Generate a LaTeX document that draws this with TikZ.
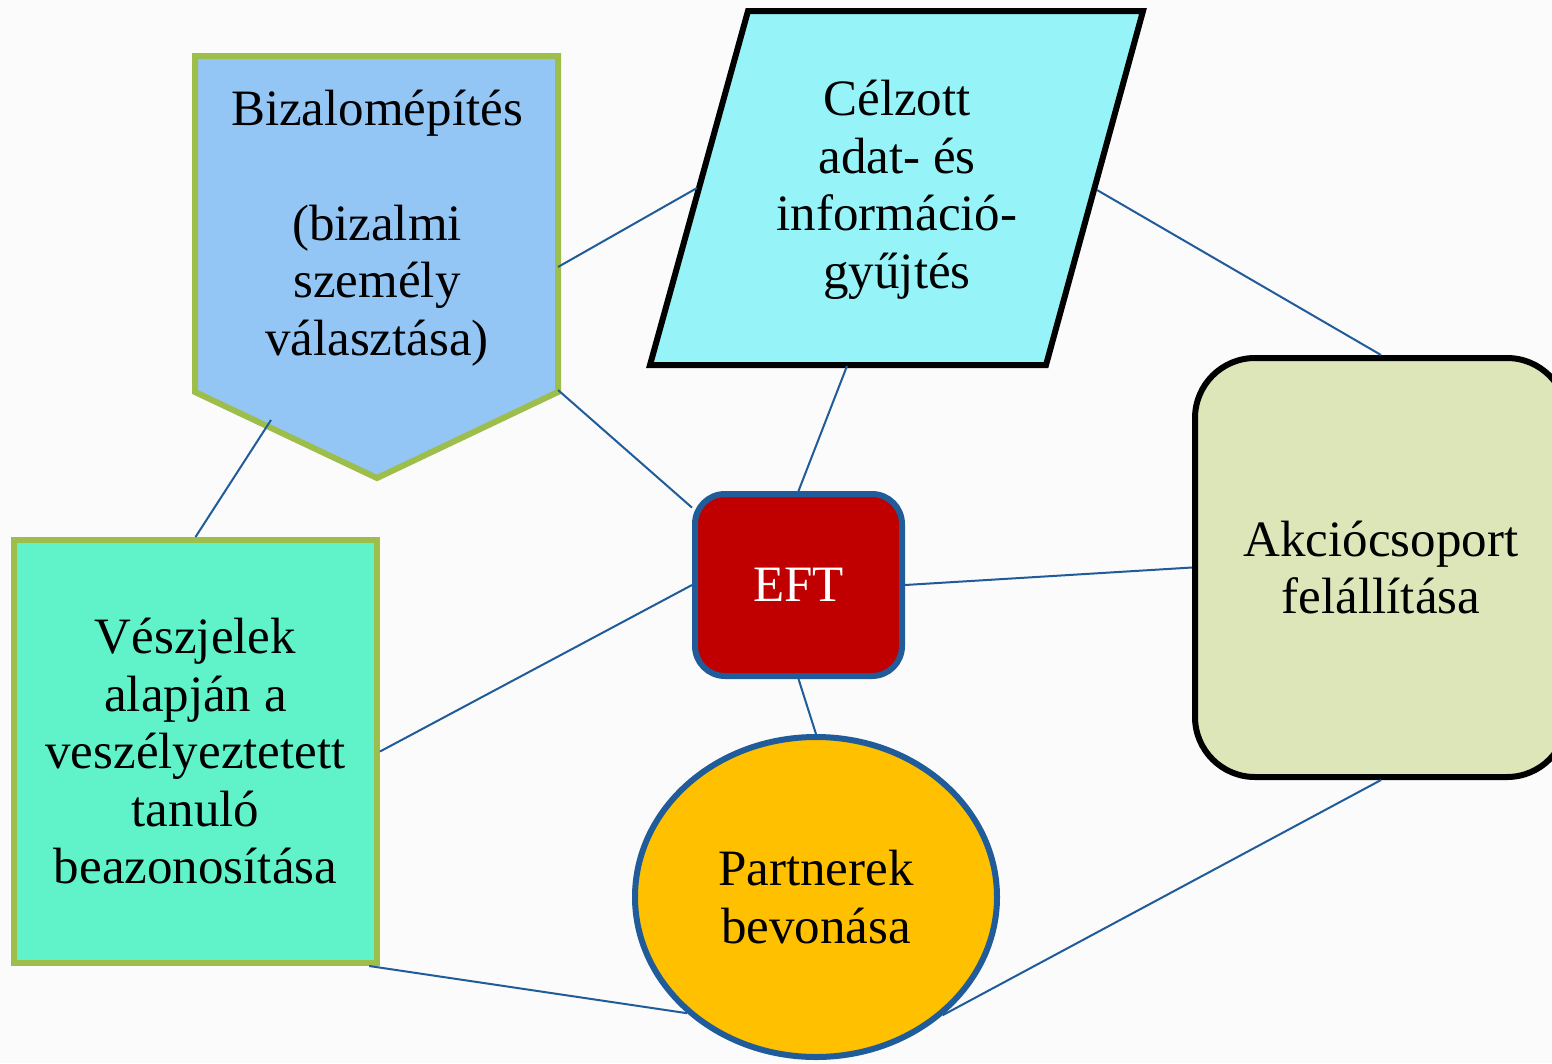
\documentclass[tikz,border=0pt]{standalone}
\usepackage{fontspec}
\setmainfont{Liberation Serif}
\usetikzlibrary{shapes.geometric}
\definecolor{bgwhite}{HTML}{FBFBFB}
\definecolor{linkblue}{HTML}{1F5C99}
\definecolor{edgegreen}{HTML}{9DBE4A}
\definecolor{bizblue}{HTML}{93C6F5}
\definecolor{celcyan}{HTML}{96F4F8}
\definecolor{veszmint}{HTML}{60F3C9}
\definecolor{eftred}{HTML}{C00000}
\definecolor{akcgreen}{HTML}{DCE6B8}
\definecolor{partgold}{HTML}{FFC000}
\begin{document}
\begin{tikzpicture}[x=1pt,y=-1pt,
	txt/.style={align=center,inner sep=0pt,font=\fontsize{51}{57.5}\selectfont},
	box/.style={txt,draw,line width=6pt},
	link/.style={draw=linkblue,line width=2pt}]
	\useasboundingbox[fill=bgwhite] (0,0) rectangle (1552,1063);
	% pentagon and parallelogram drawn as paths
	\draw[line width=6pt,draw=edgegreen,fill=bizblue] (195,56) -- (558,56) -- (558,392) -- (377,478) -- (195,392) -- cycle;
	\coordinate (bz1) at (558,267); \coordinate (bz2) at (558,390); \coordinate (bz3) at (271,420);
	\node[txt] (biz) at (377,228) {Bizalomépítés\\[57.5pt](bizalmi\\személy\\választása)};
	\draw[line width=6pt,fill=celcyan,line join=miter] (748,11) -- (1143,11) -- (1046,365) -- (650,365) -- cycle;
	\coordinate (cel1) at (697,188); \coordinate (cel2) at (1097,190); \coordinate (cel3) at (847,366);
	\node[txt] (cel) at (897,190) {Célzott\\adat- és\\információ-\\gyűjtés};
	% nodes
	\node[box,draw=linkblue,fill=eftred,text=white,rounded corners=30pt,minimum width=207,minimum height=182] (eft) at (798.5,585) {EFT};
	\node[box,fill=akcgreen,rounded corners=60pt,minimum width=372,minimum height=419,text depth=0pt] (akc) at (1381,567.5) {Akciócsoport\\felállítása};
	\node[box,draw=edgegreen,fill=veszmint,minimum width=363,minimum height=423] (vesz) at (195.5,751.5) {Vészjelek\\alapján a\\veszélyeztetett\\tanuló\\beazonosítása};
	\node[box,ellipse,draw=linkblue,fill=partgold,minimum width=362,minimum height=320] (part) at (816,897) {Partnerek\\bevonása};
	% connectors
	\draw[link] (bz1) -- (cel1);
	\draw[link] (cel2) -- (akc.north);
	\draw[link] (bz2) -- (eft.144);
	\draw[link] (cel3) -- (eft.north);
	\draw[link] (bz3) -- (vesz.north);
	\draw[link] (eft.west) -- (vesz.east);
	\draw[link] (eft.east) -- (akc.west);
	\draw[link] (eft.south) -- (part.north);
	\draw[link] (vesz.-51.8) -- (part.222);
	\draw[link] (part.317.6) -- (akc.south);
\end{tikzpicture}
\end{document}
